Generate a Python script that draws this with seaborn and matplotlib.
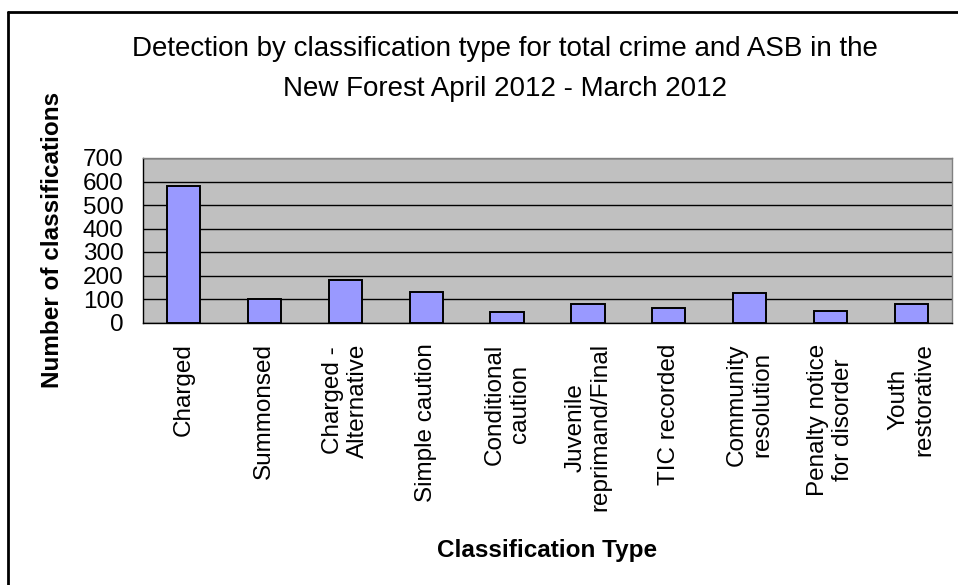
import matplotlib
matplotlib.use("Agg")
import matplotlib.pyplot as plt
import seaborn as sns
import pandas as pd
import numpy as np

categories = [
    "Charged",
    "Summonsed",
    "Charged -\nAlternative",
    "Simple caution",
    "Conditional\ncaution",
    "Juvenile\nreprimand/Final",
    "TIC recorded",
    "Community\nresolution",
    "Penalty notice\nfor disorder",
    "Youth\nrestorative",
]
counts = [582, 102, 179, 128, 44, 78, 61, 127, 51, 78]
y_ticks = [0, 100, 200, 300, 400, 500, 600, 700]

title = ("Detection by classification type for total crime and ASB in the\n"
         "New Forest April 2012 - March 2012")

sns.set_style("white")
plt.rcParams["font.family"] = ["Liberation Sans", "DejaVu Sans"]
plt.rcParams.update({
    "text.color": "black",
    "axes.labelcolor": "black",
    "xtick.color": "black",
    "ytick.color": "black",
})

df = pd.DataFrame({"category": categories, "count": counts})

W, H = 958, 585
fig = plt.figure(figsize=(W / 100, H / 100), dpi=100)
left, right, top, bottom = 143, 952, 158, 322.5
ax = fig.add_axes([left / W, 1 - bottom / H, (right - left) / W, (bottom - top) / H])

ax.set_facecolor("#C0C0C0")
sns.barplot(data=df, x="category", y="count", ax=ax, color="#9999FF",
            width=0.41, edgecolor="black", linewidth=1.4, saturation=1,
            zorder=3)

ax.set_ylim(0, 700)
ax.set_yticks(y_ticks)
ax.set_yticklabels([str(v) for v in y_ticks], fontsize=17.5, color="black")
ax.yaxis.grid(True, color="black", linewidth=1.0, zorder=1)
ax.set_axisbelow(True)
ax.set_xlim(-0.5, len(categories) - 0.5)

# category labels without marks; marks sit between categories
ax.set_xticks(range(len(categories)))
ax.set_xticklabels(categories, rotation=90, fontsize=17.5, ha="center",
                   va="top", multialignment="center", color="black")
ax.tick_params(axis="x", which="major", length=0, pad=15)
ax.set_xticks(np.arange(-0.5, len(categories), 1.0), minor=True)
ax.tick_params(axis="x", which="minor", length=6, width=1, color="black",
               direction="out")
ax.tick_params(axis="y", length=6, width=1, color="black", direction="out",
               pad=8)

for side in ("top", "right"):
    ax.spines[side].set_color("#808080")
    ax.spines[side].set_linewidth(1)
for side in ("left", "bottom"):
    ax.spines[side].set_color("black")
    ax.spines[side].set_linewidth(1)

ax.set_xlabel("")
ax.set_ylabel("")

fig.text(505 / W, 1 - 69 / H, title, ha="center", va="center",
         fontsize=20, linespacing=1.65, color="black")
fig.text(53 / W, 1 - (top + bottom) / 2 / H, "Number of classifications",
         rotation=90, ha="center", va="center", fontsize=17.5,
         fontweight="bold", color="black")
fig.text((left + right) / 2 / W, 1 - 550 / H, "Classification Type",
         ha="center", va="center", fontsize=17.5, fontweight="bold",
         color="black")

# chart frame, open on the right and bottom
fx, fy = 8 / W, 1 - 12 / H
fig.add_artist(plt.Line2D([fx, fx], [0, fy], color="black", linewidth=2,
                          transform=fig.transFigure))
fig.add_artist(plt.Line2D([fx, 1], [fy, fy], color="black", linewidth=2,
                          transform=fig.transFigure))

fig.savefig("out.png", dpi=100, facecolor="white")
